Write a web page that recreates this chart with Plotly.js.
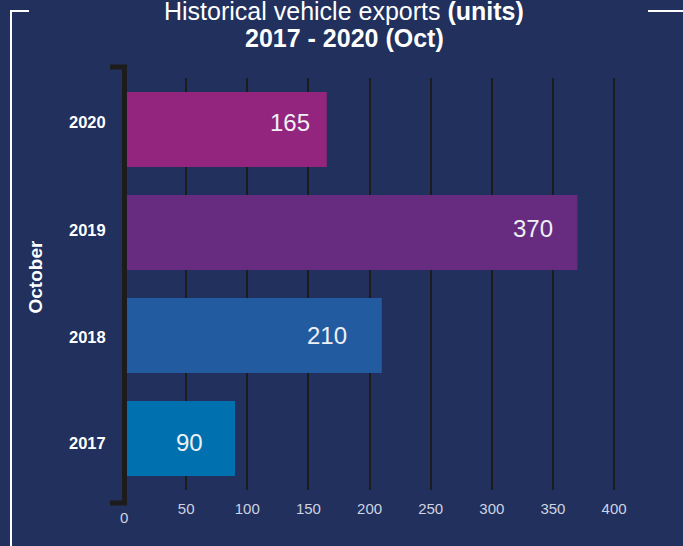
<!DOCTYPE html>
<html>
<head>
<meta charset="utf-8">
<script src="https://cdn.plot.ly/plotly-3.0.1.min.js"></script>
<style>
  html, body { margin: 0; padding: 0; background: #21305c; }
  #chart { width: 683px; height: 546px; }
</style>
</head>
<body>
<div id="chart"></div>
<script>
// ---- data ----
const years = ['2017', '2018', '2019', '2020'];
const exportsUnits = [90, 210, 370, 165];
const barColors = ['#0071ae', '#235ba1', '#672b80', '#93257e'];
const xTickVals = [50, 100, 150, 200, 250, 300, 350, 400];
const xTickText = ['50', '100', '150', '200', '250', '300', '350', '400'];
const zeroLabel = '0';
const axisTitle = 'October';
const titleLine1 = 'Historical vehicle exports ';
const titleUnits = '(units)';
const titleLine2 = '2017 - 2020 (Oct)';

// ---- styling helpers (positions only, not data) ----
const labelNudgeX = [-30, -33, -22, -15];
const labelNudgeY = [-4, 0, 4, 7];
const yTickNudgeY = [-4.5, -1, 3, 7.5];

const regular = '"Liberation Sans", Arial, sans-serif';
const axisCol = '#1c1c1c';

const trace = {
  type: 'bar',
  orientation: 'h',
  x: exportsUnits,
  y: years,
  marker: { color: barColors, line: { width: 0 } },
  hoverinfo: 'none'
};

const px = v => (v - 125) / 538;      // pixel x -> paper
const py = v => (490 - v) / 412;      // pixel y -> paper

const annotations = years.map((yr, i) => ({
  x: exportsUnits[i], y: i, xref: 'x', yref: 'y',
  text: String(exportsUnits[i]),
  showarrow: false, xanchor: 'right', yanchor: 'middle',
  xshift: labelNudgeX[i], yshift: labelNudgeY[i],
  font: { family: regular, size: 24, color: '#eef0f6' }
}));

// category labels (drawn as text beside the axis)
years.forEach((yr, i) => {
  annotations.push({
    x: px(107.5), y: i, xref: 'paper', yref: 'y',
    text: '<b>' + yr + '</b>', showarrow: false,
    xanchor: 'right', yanchor: 'middle', yshift: yTickNudgeY[i],
    font: { family: regular, size: 16.5, color: '#ffffff' }
  });
});

annotations.push({
  x: 0, y: py(517.5), xref: 'x', yref: 'paper',
  text: zeroLabel, showarrow: false, xanchor: 'center', yanchor: 'middle',
  xshift: -1,
  font: { family: regular, size: 15, color: '#cfd3e3' }
});
annotations.push({
  x: px(35), y: py(277.5), xref: 'paper', yref: 'paper',
  text: '<b>' + axisTitle + '</b>', textangle: -90, showarrow: false,
  xanchor: 'center', yanchor: 'middle',
  font: { family: regular, size: 19, color: '#ffffff' }
});
// title as two centred lines
annotations.push({
  x: px(344), y: py(11.5), xref: 'paper', yref: 'paper',
  text: titleLine1 + '<b>' + titleUnits + '</b>', showarrow: false,
  xanchor: 'center', yanchor: 'middle', borderpad: 0,
  font: { family: regular, size: 25, color: '#ffffff' }
});
annotations.push({
  x: px(344), y: py(38.5), xref: 'paper', yref: 'paper',
  text: '<b>' + titleLine2 + '</b>', showarrow: false,
  xanchor: 'center', yanchor: 'middle',
  font: { family: regular, size: 25, color: '#ffffff' }
});

const shapes = [
  // black axis line with brackets
  { type: 'line', xref: 'paper', yref: 'paper', x0: px(124.5), x1: px(124.5), y0: py(65), y1: py(505), line: { color: axisCol, width: 5 } },
  { type: 'line', xref: 'paper', yref: 'paper', x0: px(110), x1: px(127), y0: py(67), y1: py(67), line: { color: axisCol, width: 5 } },
  { type: 'line', xref: 'paper', yref: 'paper', x0: px(110), x1: px(127), y0: py(503), y1: py(503), line: { color: axisCol, width: 5 } },
  // white frame pieces
  { type: 'line', xref: 'paper', yref: 'paper', x0: px(11), x1: px(11), y0: py(10), y1: py(560), line: { color: '#ffffff', width: 2 } },
  { type: 'line', xref: 'paper', yref: 'paper', x0: px(10), x1: px(29), y0: py(11), y1: py(11), line: { color: '#ffffff', width: 2 } },
  { type: 'line', xref: 'paper', yref: 'paper', x0: px(648), x1: px(700), y0: py(11), y1: py(11), line: { color: '#ffffff', width: 2 } }
];

const layout = {
  width: 683, height: 546,
  paper_bgcolor: '#21305c', plot_bgcolor: '#21305c',
  margin: { l: 125, r: 20, t: 78, b: 56, pad: 0 },
  showlegend: false,
  bargap: 0.272,
  xaxis: {
    range: [0, 440],
    tickvals: xTickVals, ticktext: xTickText,
    showgrid: true, gridcolor: axisCol, gridwidth: 2,
    zeroline: false, showline: false, ticks: '',
    ticklabelstandoff: 8,
    tickfont: { family: regular, size: 15, color: '#cfd3e3' },
    fixedrange: true
  },
  yaxis: {
    type: 'category', categoryorder: 'array', categoryarray: years,
    range: [-0.5, 3.5], autorange: false,
    showgrid: false, zeroline: false, showline: false, ticks: '',
    showticklabels: false,
    fixedrange: true
  },
  annotations: annotations,
  shapes: shapes
};

Plotly.newPlot('chart', [trace], layout, { displayModeBar: false, staticPlot: true });
</script>
</body>
</html>
